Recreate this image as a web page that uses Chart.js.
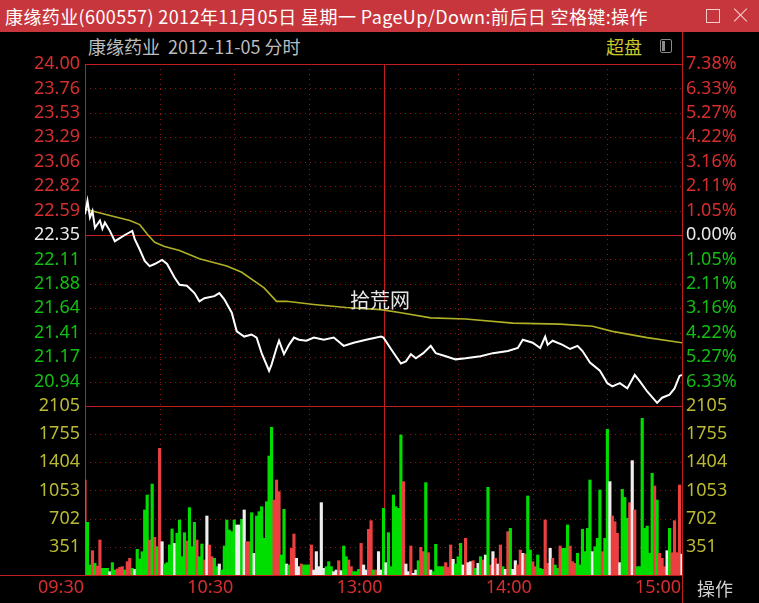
<!DOCTYPE html>
<html>
<head>
<meta charset="utf-8">
<script src="https://cdn.jsdelivr.net/npm/chart.js@4.4.1/dist/chart.umd.min.js"></script>
<style>
  html, body { margin: 0; padding: 0; background: #000; }
  body { width: 759px; height: 603px; position: relative; overflow: hidden; font-family: "Noto Sans CJK SC", "Noto Sans", sans-serif; }
  .titlebar { position: absolute; left: 0; top: 0; width: 759px; height: 32px; background: #c7363c; }
  .titlebar .txt { position: absolute; left: 5px; top: 4px; font-size: 18px; line-height: 24px; color: #fff; white-space: nowrap; letter-spacing: 0.4px; }
  .winbox { position: absolute; left: 706px; top: 9px; width: 12px; height: 12px; border: 1px solid #f3d0d0; }
  .winx { position: absolute; left: 733px; top: 7px; width: 16px; height: 16px; }
  .winx::before, .winx::after { content: ""; position: absolute; left: 7px; top: -1px; width: 1px; height: 18px; background: #f3d0d0; }
  .winx::before { transform: rotate(45deg); }
  .winx::after { transform: rotate(-45deg); }
  .lbl { position: absolute; font-size: 18px; line-height: 22px; white-space: nowrap; }
  .icon { position: absolute; left: 660px; top: 39px; width: 10px; height: 12px; border: 1px solid #8a8a8a; border-radius: 2px; }
  .icon i { position: absolute; left: 1px; top: 1px; width: 3px; height: 10px; background: #8a8a8a; }
  canvas { position: absolute; left: 0; top: 32px; }
</style>
</head>
<body>
<div class="titlebar">
  <div class="txt">康缘药业(600557) 2012年11月05日 星期一 PageUp/Down:前后日 空格键:操作</div>
  <div class="winbox"></div>
  <div class="winx"></div>
</div>
<div class="lbl" style="left:88px;top:35px;color:#bdbdbd;">康缘药业&nbsp;&nbsp;2012-11-05 分时</div>
<div class="lbl" style="left:606px;top:35px;color:#c8c828;">超盘</div>
<div class="icon"><i></i></div>
<canvas id="chart" width="759" height="571"></canvas>
<div class="lbl" style="left:350px;top:289px;color:#e6e6e6;font-size:20px;z-index:2;">拾荒网</div>
<div class="lbl" style="left:697px;top:577px;color:#d0d0d0;">操作</div>

<script>
// 昨收 / 价格区间
const prevClose = 22.35;
const priceMax = 24.00;
const priceMin = 20.70;

// 分时价格 (分钟序号, 价格)
const priceMinutes = [0, 1, 2, 3, 4, 6, 7, 8, 10, 12, 14, 16, 19, 20, 22, 24, 26, 28, 31, 33,
    36, 38, 41, 44, 46, 48, 52, 54, 56, 59, 61, 64, 67, 69, 71, 74, 75, 77, 78, 80,
    82, 84, 86, 89, 92, 96, 100, 104, 108, 113, 119, 120, 123, 127, 129, 131, 133, 136, 139, 141,
    145, 149, 153, 159, 164, 170, 174, 176, 180, 183, 185, 186, 188, 192, 195, 198, 200, 203, 207, 210,
    212, 215, 218, 221, 223, 226, 230, 232, 235, 237, 239, 240];
const priceValues = [22.55, 22.68, 22.52, 22.58, 22.42, 22.49, 22.41, 22.47, 22.39, 22.29, 22.32, 22.35, 22.39, 22.31, 22.21, 22.10, 22.05, 22.07, 22.11, 22.07,
    21.94, 21.87, 21.86, 21.79, 21.71, 21.74, 21.76, 21.79, 21.73, 21.60, 21.42, 21.37, 21.39, 21.36, 21.21, 21.04, 21.10, 21.26, 21.33, 21.20,
    21.29, 21.36, 21.34, 21.33, 21.36, 21.34, 21.36, 21.28, 21.31, 21.34, 21.37, 21.36, 21.25, 21.11, 21.13, 21.20, 21.16, 21.21, 21.28, 21.21,
    21.18, 21.15, 21.16, 21.18, 21.21, 21.23, 21.26, 21.34, 21.31, 21.26, 21.37, 21.29, 21.33, 21.29, 21.25, 21.28, 21.23, 21.12, 21.04, 20.92,
    20.89, 20.92, 20.87, 21.00, 20.94, 20.84, 20.73, 20.78, 20.81, 20.87, 20.99, 21.00];

// 均价线
const avgMinutes = [0, 8, 18, 22, 25, 28, 32, 38, 46, 57, 63, 72, 77, 81, 92, 105, 119, 127, 139, 153, 172, 191, 204, 212, 226, 240];
const avgValues = [22.60, 22.55, 22.49, 22.45, 22.36, 22.28, 22.24, 22.20, 22.12, 22.05, 21.99, 21.84, 21.71, 21.71, 21.68, 21.65, 21.63, 21.60, 21.55, 21.54, 21.50, 21.49, 21.47, 21.42, 21.36, 21.31];

// 每分钟成交量 (09:30 - 15:00, 241 根)
const volumes = [
    1183, 656, 125, 303, 145, 112, 436, 83, 83, 83, 42, 154, 62, 75, 95, 104, 62, 166, 208, 83,
    70, 320, 199, 290, 810, 996, 436, 1133, 469, 353, 1578, 415, 137, 154, 374, 573, 394, 519, 685, 228,
    527, 423, 839, 353, 656, 436, 228, 386, 187, 735, 374, 228, 208, 104, 137, 62, 361, 685, 560,
    540, 685, 623, 623, 693, 810, 415, 415, 776, 270, 735, 789, 851, 457, 913, 1482, 1839, 934, 1183, 1038,
    249, 818, 137, 125, 332, 511, 208, 104, 137, 125, 125, 125, 374, 62, 291, 104, 901, 83, 104, 166,
    104, 42, 62, 178, 54, 361, 228, 187, 104, 42, 42, 70, 394, 125, 62, 569, 677, 62, 62, 291, 62,
    830, 154, 527, 104, 996, 851, 830, 1744, 1163, 137, 42, 361, 21, 62, 178, 345, 291, 1150, 278, 62,
    42, 382, 104, 104, 104, 154, 95, 374, 195, 137, 228, 394, 125, 457, 154, 166, 178, 83, 145, 228,
    187, 249, 1092, 125, 291, 208, 137, 374, 104, 71, 540, 581, 71, 178, 125, 311, 270, 262, 984, 311,
    166, 104, 249, 83, 71, 685, 145, 332, 208, 125, 83, 361, 332, 332, 623, 361, 166, 145, 270, 125,
    569, 291, 581, 1183, 291, 353, 457, 1059, 291, 457, 1814, 1163, 735, 664, 519, 154, 1067, 967, 706, 901,
    1424, 810, 104, 104, 1951, 581, 610, 270, 1266, 1109, 934, 270, 208, 104, 303, 581, 278, 677, 278, 1121, 262
];
// 每分钟涨跌: u = 上涨, d = 下跌, f = 平
const volTrend = [
    'udduduuddd', 'fdduuuduud', 'fdddddudud', 'ufddddfddd', 'dudddudduf', 'uuddfdddd',
    'ddffdfuudf', 'ddddddduuu', 'ddfduuffud', 'ddufffffdd', 'dffufdduud', 'dduffuuduf', 'f',
    'dfdddddduf', 'fuffduuduf', 'ddddduuufd', 'ddfuffudfd', 'ufdufufudf', 'udffuufudd',
    'uuddduufud', 'duddduuudd', 'ddddfdddud', 'dfuuufdddu', 'fudddddddu', 'duuufduuuu', 'f'
].join('').split('');

// 坐标刻度
const priceTickLabels = ['24.00', '23.76', '23.53', '23.29', '23.06', '22.82', '22.59', '22.35',
    '22.11', '21.88', '21.64', '21.41', '21.17', '20.94', ''];
const pctTickLabels = ['7.38%', '6.33%', '5.27%', '4.22%', '3.16%', '2.11%', '1.05%', '0.00%',
    '1.05%', '2.11%', '3.16%', '4.22%', '5.27%', '6.33%', ''];
const volTickValues = [0, 351, 702, 1053, 1404, 1755, 2105];
const volTickLabels = ['', '351', '702', '1053', '1404', '1755', '2105'];
const timeTickMinutes = [0, 60, 120, 180, 240];
const timeTickLabels = ['09:30', '10:30', '13:00', '14:00', '15:00'];
const gridMinutes = [30, 60, 90, 150, 180, 210];

const RED = 'rgb(214,46,46)';
const GREEN = 'rgb(18,190,18)';
const WHITE = 'rgb(232,232,232)';
const OLIVE = 'rgb(186,186,50)';
const LINE_SOLID = '#c01e1e';
const LINE_DOT = '#8e1818';
const FONT = {family: '"Noto Sans", "Liberation Sans", sans-serif', size: 18};
const trendColor = {u: 'rgb(236,64,64)', d: 'rgb(0,222,0)', f: 'rgb(238,238,238)'};

const priceStep = (priceMax - priceMin) / (priceTickLabels.length - 1);

function priceTicks(scale) {
    scale.ticks = priceTickLabels.map((_, i) => ({value: priceMax - i * priceStep}));
}
function volTicks(scale) {
    scale.ticks = volTickValues.map(v => ({value: v}));
}
function sideColor(ctx) {
    if (ctx.index < 7) return RED;
    if (ctx.index === 7) return WHITE;
    return GREEN;
}

const gridPlugin = {
    id: 'fenshiGrid',
    beforeDatasetsDraw(chart) {
        const {ctx, chartArea: a, scales} = chart;
        const p = scales.yPrice, v = scales.yVol, x = scales.x;
        const hline = (y, x0, x1) => {
            y = Math.round(y) + 0.5;
            ctx.beginPath(); ctx.moveTo(x0, y); ctx.lineTo(x1, y); ctx.stroke();
        };
        const vline = (xx, y0, y1) => {
            xx = Math.round(xx) + 0.5;
            ctx.beginPath(); ctx.moveTo(xx, y0); ctx.lineTo(xx, y1); ctx.stroke();
        };
        ctx.save();
        ctx.lineWidth = 1;
        ctx.strokeStyle = LINE_DOT;
        ctx.setLineDash([1, 4]);
        p.ticks.forEach((t, i) => {
            if (i > 0 && i !== 7 && i < p.ticks.length - 1) hline(p.getPixelForValue(t.value), a.left, a.right);
        });
        v.ticks.forEach((t, i) => {
            if (i > 0 && i < v.ticks.length - 1) hline(v.getPixelForValue(t.value), a.left, a.right);
        });
        gridMinutes.forEach(m => vline(x.getPixelForValue(m), a.top, a.bottom));
        ctx.setLineDash([]);
        ctx.strokeStyle = LINE_SOLID;
        hline(p.getPixelForValue(prevClose), a.left, a.right);
        hline(v.top, a.left, a.right);
        hline(a.top, a.left, a.right);
        vline(x.getPixelForValue(120), a.top, a.bottom);
        vline(a.left, a.top, a.bottom);
        ctx.restore();
    },
    afterDraw(chart) {
        const {ctx, chartArea: a, height} = chart;
        ctx.save();
        ctx.lineWidth = 1;
        ctx.strokeStyle = LINE_SOLID;
        ctx.beginPath();
        ctx.moveTo(0, Math.round(a.bottom) + 0.5);
        ctx.lineTo(Math.round(a.right) + 0.5, Math.round(a.bottom) + 0.5);
        ctx.moveTo(Math.round(a.right) + 0.5, 0);
        ctx.lineTo(Math.round(a.right) + 0.5, height);
        ctx.stroke();
        ctx.restore();
    }
};

const noGrid = {display: false, drawTicks: false};

const ctx = document.getElementById('chart').getContext('2d');
new Chart(ctx, {
    type: 'bar',
    data: {
        datasets: [{
            type: 'line',
            label: '价格',
            data: priceMinutes.map((t, i) => ({x: t, y: priceValues[i]})),
            yAxisID: 'yPrice',
            borderColor: '#ffffff',
            borderWidth: 2,
            pointRadius: 0,
            tension: 0
        }, {
            type: 'line',
            label: '均价',
            data: avgMinutes.map((t, i) => ({x: t, y: avgValues[i]})),
            yAxisID: 'yPrice',
            borderColor: 'rgb(176,176,38)',
            borderWidth: 1.6,
            pointRadius: 0,
            tension: 0
        }, {
            type: 'bar',
            label: '成交量',
            data: volumes.map((v, i) => ({x: i, y: v})),
            yAxisID: 'yVol',
            backgroundColor: volTrend.map(c => trendColor[c]),
            barPercentage: 1,
            categoryPercentage: 1
        }]
    },
    options: {
        responsive: false,
        animation: false,
        events: [],
        layout: {padding: {top: 32, left: 0, right: 0, bottom: 0}},
        plugins: {legend: {display: false}, tooltip: {enabled: false}},
        scales: {
            x: {
                type: 'linear', min: 0, max: 240, offset: false,
                grid: noGrid, border: {display: false},
                afterBuildTicks: s => { s.ticks = timeTickMinutes.map(v => ({value: v})); },
                afterFit: s => { s.height = 28; },
                ticks: {
                    autoSkip: false, maxRotation: 0, align: 'end', padding: 2, labelOffset: -1,
                    color: RED, font: FONT,
                    callback: (v, i) => timeTickLabels[i]
                }
            },
            yPrice: {
                type: 'linear', position: 'left', stack: 'left', stackWeight: 342, weight: 2,
                min: priceMin, max: priceMax,
                grid: noGrid, border: {display: false},
                afterBuildTicks: priceTicks,
                afterFit: s => { s.width = 85; },
                ticks: {autoSkip: false, padding: 5, font: FONT, color: sideColor, callback: (v, i) => priceTickLabels[i]}
            },
            yVol: {
                type: 'linear', position: 'left', stack: 'left', stackWeight: 169, weight: 1,
                min: 0, max: 2105,
                grid: noGrid, border: {display: false},
                afterBuildTicks: volTicks,
                afterFit: s => { s.width = 85; },
                ticks: {autoSkip: false, padding: 5, font: FONT, color: OLIVE, callback: (v, i) => volTickLabels[i]}
            },
            yPct: {
                type: 'linear', position: 'right', stack: 'right', stackWeight: 342, weight: 1,
                min: priceMin, max: priceMax,
                grid: noGrid, border: {display: false},
                afterBuildTicks: priceTicks,
                afterFit: s => { s.width = 77; },
                ticks: {autoSkip: false, padding: 4, font: FONT, color: sideColor, callback: (v, i) => pctTickLabels[i]}
            },
            yVolR: {
                type: 'linear', position: 'right', stack: 'right', stackWeight: 169, weight: 2,
                min: 0, max: 2105,
                grid: noGrid, border: {display: false},
                afterBuildTicks: volTicks,
                afterFit: s => { s.width = 77; },
                ticks: {autoSkip: false, padding: 4, font: FONT, color: OLIVE, callback: (v, i) => volTickLabels[i]}
            }
        }
    },
    plugins: [gridPlugin]
});
</script>
</body>
</html>
